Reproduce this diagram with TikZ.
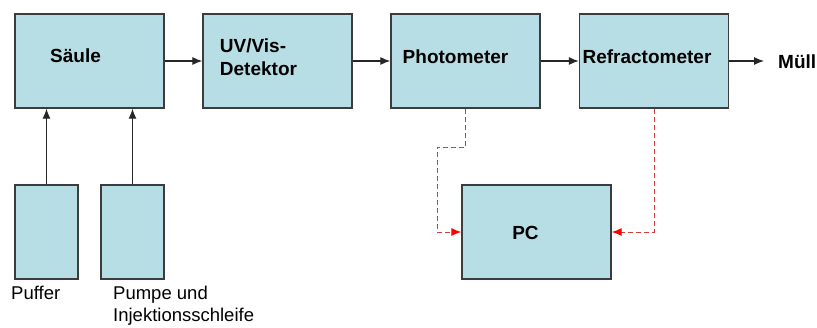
\documentclass[tikz,border=0pt]{standalone}
\usepackage{fontspec}
\setmainfont{Liberation Sans}
\usetikzlibrary{arrows.meta,positioning}
\definecolor{boxfill}{RGB}{183,222,228}
\definecolor{boxline}{RGB}{60,60,60}
\definecolor{datared}{RGB}{210,60,60}

\begin{document}
\begin{tikzpicture}[x=1pt, y=-1pt,
        stage/.style={rectangle, draw=boxline, line width=1.4pt, fill=boxfill,
                      minimum width=149pt, minimum height=94pt, inner sep=0pt},
        vessel/.style={rectangle, draw=boxline, line width=1.4pt, fill=boxfill,
                       minimum width=63pt, minimum height=94pt, inner sep=0pt},
        tag/.style={font=\fontsize{19}{23}\selectfont\bfseries},
        caption/.style={font=\fontsize{18.5}{22}\selectfont, anchor=north west,
                        inner sep=0pt, align=left},
        flow/.style={-{Latex[length=10pt,width=8pt]}, line width=1.1pt, black!85},
        signal/.style={-{Latex[length=10pt,width=8pt, fill=red, color=red]}, datared,
                       dash pattern=on 5pt off 3pt, line width=1pt}
    ]
    \useasboundingbox (0,0) rectangle (817,327);

    %% -- main chain ---------------------------------------------------------
    \node[stage, label={[tag, xshift=-14pt, yshift=5pt]center:Säule}] (saeule) at (89.5,61) {};
    \node[stage, label={[tag, align=left, xshift=-19pt, yshift=4pt]center:{UV/Vis-\\Detektor}}] (uvvis) at (277.5,61) {};
    \node[stage, label={[tag, xshift=-10pt, yshift=4pt]center:Photometer}] (photo) at (465.5,61) {};
    \node[stage, label={[tag, xshift=-7pt, yshift=4pt]center:Refractometer}] (refrac) at (654,61) {};
    \node[tag, anchor=west, inner sep=0pt] (muell) at (778,62) {Müll};

    %% -- supply vessels -----------------------------------------------------
    \node[vessel] (puffer) at (46.5,232) {};
    \node[vessel] (pumpe) at (132.5,232) {};
    \node[caption] (puffertext) at (11,286) {Puffer};
    \node[caption] (pumpetext) at (113,286) {Pumpe und\\Injektionsschleife};

    %% -- PC -----------------------------------------------------------------
    \node[stage, label={[tag, xshift=-11pt, yshift=-1pt]center:PC}] (pc) at (536.5,232) {};

    %% -- flow arrows --------------------------------------------------------
    \draw[flow] (saeule.east) -- (uvvis.west);
    \draw[flow] (uvvis.east) -- (photo.west);
    \draw[flow] (photo.east) -- (refrac.west);
    \draw[flow, shorten >=14pt] (refrac.east) -- (refrac.east -| muell.west);
    \draw[flow] (puffer.north) -- (puffer.north |- saeule.south);
    \draw[flow] (pumpe.north) -- (pumpe.north |- saeule.south);

    %% -- data lines to PC ---------------------------------------------------
    \coordinate (bend) at (437,147);
    \draw[signal] (photo.south) |- (bend) |- (pc.west);
    \draw[signal] (refrac.south) |- (pc.east);

\end{tikzpicture}
\end{document}
